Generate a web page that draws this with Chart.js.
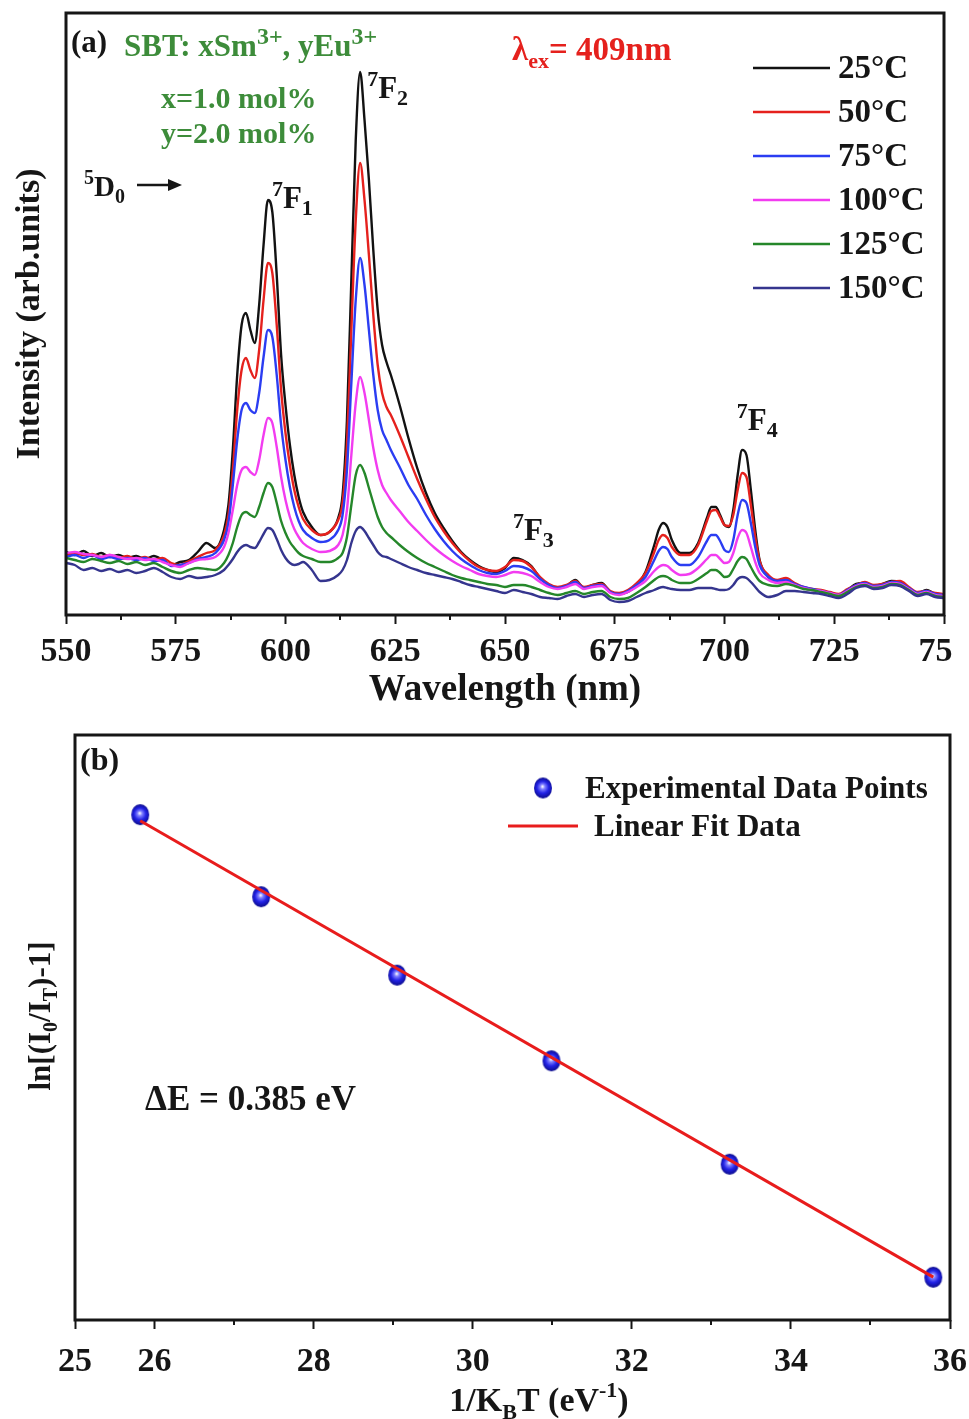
<!DOCTYPE html>
<html>
<head>
<meta charset="utf-8">
<script src="https://cdn.jsdelivr.net/npm/chart.js@4.4.1/dist/chart.umd.min.js"></script>
<style>
  html, body { margin: 0; padding: 0; background: #fff; }
  body { width: 969px; height: 1419px; position: relative; overflow: hidden; }
  #specWrap { position: absolute; left: 0; top: 0; width: 952px; height: 720px; }
  #fitWrap { position: absolute; left: 0; top: 720px; width: 969px; height: 699px; }
</style>
</head>
<body>
<div id="specWrap"><canvas id="spec" width="952" height="720"></canvas></div>
<div id="fitWrap"><canvas id="fit" width="969" height="699"></canvas></div>
<script>
// ---- (a) emission spectra, wavelength in nm, intensity in arbitrary units ----
const wavelength = [
  550,552,554,556,558,560,562,564,566,568,570,572,574,576,578,580,582,584,586,
  587,588,589,590,591,592,593,594,595,596,597,598,599,600,601,602,603,604,
  606,608,610,612,
  613,614,615,616,617,618,619,620,621,622,623,624,
  626,628,630,632,634,636,638,640,642,644,646,648,650,652,654,656,658,660,662,664,666,668,670,672,674,676,678,680,682,684,
  685,686,687,688,
  690,692,694,696,
  697,698,699,700,701,702,703,704,705,706,707,708,
  710,712,714,716,718,720,722,724,726,728,730,732,734,736,738,740,742,744,746,748,750
];
const i25 = [
  63,60,64,59,62,58,60,57,59,56,59,55,50,53,55,63,72,67,85,
  110,165,240,290,302,285,272,310,370,415,403,340,260,210,170,140,118,103,
  88,80,83,97,
  120,195,335,475,543,495,435,365,305,270,253,240,
  210,177,147,122,102,87,74,63,55,49,45,43,47,57,55,49,37,30,27,29,35,27,30,32,23,21,23,30,43,70,
  85,92,88,75,
  62,62,72,97,
  108,108,100,90,88,105,140,165,160,125,85,55,
  38,33,34,30,27,25,24,22,20,25,31,32,29,31,34,33,27,22,25,21,20
];
const i50 = [
  60,62,60,61,58,60,57,59,56,58,55,57,52,50,54,58,62,65,80,
  100,145,205,245,257,245,237,265,315,352,342,290,225,182,150,125,108,96,
  85,80,83,95,
  112,170,285,395,452,415,360,300,250,222,208,200,
  180,158,136,116,98,84,72,62,54,48,45,44,48,55,54,48,38,31,28,30,34,28,30,31,24,22,25,32,42,63,
  75,80,77,68,
  60,60,70,94,
  104,105,98,90,89,100,125,142,138,110,78,54,
  40,35,37,32,28,26,25,23,21,26,30,33,30,31,33,34,28,23,24,22,21
];
const i75 = [
  58,60,57,60,56,58,56,57,55,57,54,55,49,50,52,56,58,62,75,
  92,130,175,205,212,205,202,222,258,285,278,240,190,155,128,108,94,85,
  77,73,75,85,
  100,145,232,315,357,330,285,240,205,185,175,165,
  148,130,116,100,86,74,64,56,50,45,42,41,44,49,48,44,36,30,27,29,33,27,29,30,23,21,24,30,38,55,
  64,68,66,58,
  50,50,58,74,
  80,80,74,65,63,75,100,115,112,92,68,50,
  38,34,35,31,28,26,24,22,20,25,30,32,29,30,33,32,27,22,24,21,20
];
const i100 = [
  62,63,61,60,58,60,58,56,57,55,56,53,50,48,52,55,56,58,68,
  82,105,130,145,148,143,140,155,180,197,192,168,138,115,98,86,78,72,
  66,63,64,70,
  80,105,160,212,238,222,195,167,145,130,122,115,
  104,93,84,75,67,60,54,49,45,41,39,38,40,43,42,39,33,28,26,28,31,26,28,29,22,20,23,28,34,44,
  48,50,49,45,
  40,41,47,56,
  60,60,56,52,53,62,77,85,82,68,53,42,
  35,32,33,30,27,25,24,22,20,24,29,31,28,29,32,31,26,21,23,20,19
];
const i125 = [
  57,55,53,56,54,52,54,51,53,50,52,48,44,42,45,47,46,45,52,
  60,72,88,100,103,100,98,108,122,132,128,112,94,82,73,67,62,59,
  56,53,53,57,
  62,78,110,140,150,142,127,112,98,88,82,78,
  70,63,57,52,48,44,40,37,35,33,31,30,28,30,30,28,25,22,20,22,24,21,23,24,18,16,17,22,28,35,
  38,39,38,35,
  32,32,36,42,
  45,45,42,38,39,46,54,58,56,48,40,34,
  30,29,31,29,26,25,23,21,19,23,28,30,27,28,31,30,25,20,22,19,18
];
const i150 = [
  52,50,45,47,44,46,43,45,42,44,47,43,38,36,39,37,38,40,45,
  50,56,63,68,70,68,67,73,81,87,85,76,65,57,52,50,51,53,
  45,34,35,40,
  45,55,72,84,88,84,77,70,63,59,58,56,
  52,48,45,42,40,38,36,33,30,28,26,24,22,25,23,21,18,17,16,19,21,18,20,21,15,13,14,18,22,25,
  27,28,27,26,
  25,25,27,27,
  27,26,25,25,26,30,36,38,37,33,28,23,
  18,20,24,24,23,22,21,19,17,21,27,29,26,27,30,29,24,19,21,18,17
];
const temperatures = ['25°C', '50°C', '75°C', '100°C', '125°C', '150°C'];
const spectrumTicks = [550, 575, 600, 625, 650, 675, 700, 725, 750];

// ---- (b) thermal quenching fit ----
const invKT = [25.82, 27.34, 29.05, 30.99, 33.23, 35.79];
const lnRatio = [2.05, 1.36, 0.70, -0.02, -0.89, -1.84];
const fitSlope = -0.385;      // -ΔE (eV)
const fitIntercept = 11.94;
const fitTicks = [25, 26, 28, 30, 32, 34, 36];
const fitMinorTicks = [27, 29, 31, 33, 35];

// ---- styling ----
const FONT = '"Liberation Serif", "Times New Roman", serif';
const INK = '#161616';
const lineColors = ['#121212', '#e5211d', '#2b3df2', '#f23cf0', '#25872a', '#35358e'];

function drawRich(ctx, x, y, parts, size, color, align, ratio) {
  const r = ratio || 0.62;
  ctx.save();
  ctx.fillStyle = color;
  ctx.textBaseline = 'alphabetic';
  ctx.textAlign = 'left';
  const fontFor = s => `bold ${s}px ${FONT}`;
  const items = parts.map(([t, kind]) => {
    const s = kind ? Math.round(size * r) : size;
    ctx.font = fontFor(s);
    return { t, kind, s, w: ctx.measureText(t).width };
  });
  const total = items.reduce((a, b) => a + b.w, 0);
  let cx = align === 'center' ? x - total / 2 : x;
  for (const it of items) {
    ctx.font = fontFor(it.s);
    const dy = it.kind === 'sup' ? -size * 0.4 : it.kind === 'sub' ? size * 0.24 : 0;
    ctx.fillText(it.t, cx, y + dy);
    cx += it.w;
  }
  ctx.restore();
}

function makeSphere(rx, ry) {
  const c = document.createElement('canvas');
  c.width = Math.ceil(rx * 2 + 2);
  c.height = Math.ceil(ry * 2 + 2);
  const g = c.getContext('2d');
  const cx = c.width / 2, cy = c.height / 2;
  const grad = g.createRadialGradient(cx - 0.5, cy - 1.5, 0.4, cx, cy, ry);
  grad.addColorStop(0, '#f2f2ff');
  grad.addColorStop(0.2, '#8080ff');
  grad.addColorStop(0.55, '#2222e6');
  grad.addColorStop(1, '#0b0b88');
  g.fillStyle = grad;
  g.beginPath();
  g.ellipse(cx, cy, rx, ry, 0, 0, Math.PI * 2);
  g.fill();
  return c;
}
const sphere = makeSphere(9, 10.5);

function minorTicks(ctx, scale, values, bottom) {
  ctx.save();
  ctx.strokeStyle = INK;
  ctx.lineWidth = 2;
  ctx.beginPath();
  for (const v of values) {
    const px = Math.round(scale.getPixelForValue(v));
    ctx.moveTo(px, bottom);
    ctx.lineTo(px, bottom + 5);
  }
  ctx.stroke();
  ctx.restore();
}

function frame(ctx, a) {
  ctx.save();
  ctx.strokeStyle = INK;
  ctx.lineWidth = 3;
  ctx.strokeRect(a.left, a.top, a.right - a.left, a.bottom - a.top);
  ctx.restore();
}

// ---- chart (a) ----
const spectrumNotes = {
  id: 'spectrumNotes',
  afterDraw(chart) {
    const { ctx, chartArea: a, scales: { x, y } } = chart;
    frame(ctx, a);
    const mids = [];
    for (let i = 0; i < spectrumTicks.length - 1; i++) mids.push((spectrumTicks[i] + spectrumTicks[i + 1]) / 2);
    minorTicks(ctx, x, mids, a.bottom);

    drawRich(ctx, 71, 52, [['(a)', '']], 31, INK);
    drawRich(ctx, 124, 56, [['SBT: xSm', ''], ['3+', 'sup'], [', yEu', ''], ['3+', 'sup']], 31, '#3d8c3a', 'left', 0.76);
    drawRich(ctx, 161, 108, [['x=1.0 mol%', '']], 30, '#3d8c3a');
    drawRich(ctx, 161, 143, [['y=2.0 mol%', '']], 30, '#3d8c3a');
    drawRich(ctx, 512, 60, [['λ', ''], ['ex', 'sub'], ['= 409nm', '']], 33, '#e5211d', 'left', 0.66);

    // 5D0 → transition label
    drawRich(ctx, 84, 196, [['5', 'sup'], ['D', ''], ['0', 'sub']], 29, INK, 'left', 0.68);
    ctx.save();
    ctx.strokeStyle = INK; ctx.fillStyle = INK; ctx.lineWidth = 2.5;
    ctx.beginPath(); ctx.moveTo(137, 185); ctx.lineTo(170, 185); ctx.stroke();
    ctx.beginPath(); ctx.moveTo(182, 185); ctx.lineTo(168, 179); ctx.lineTo(168, 191); ctx.closePath(); ctx.fill();
    ctx.restore();

    // 7FJ peak labels, anchored in data space
    [['1', 596.9, 407], ['2', 618.6, 517], ['3', 651.8, 75], ['4', 702.8, 185]].forEach(([j, wl, inten]) => {
      drawRich(ctx, x.getPixelForValue(wl), y.getPixelForValue(inten), [['7', 'sup'], ['F', ''], [j, 'sub']], 31, INK, 'left', 0.7);
    });

    // legend
    ctx.save();
    chart.data.datasets.forEach((ds, i) => {
      const ly = 68 + i * 44;
      ctx.strokeStyle = ds.borderColor;
      ctx.lineWidth = 2.6;
      ctx.beginPath(); ctx.moveTo(753, ly); ctx.lineTo(830, ly); ctx.stroke();
      ctx.fillStyle = INK;
      ctx.font = `bold 33px ${FONT}`;
      ctx.textBaseline = 'middle';
      ctx.fillText(ds.label, 838, ly + 1);
    });
    ctx.restore();
  }
};

const spectra = [i25, i50, i75, i100, i125, i150];
new Chart(document.getElementById('spec'), {
  type: 'line',
  data: {
    datasets: spectra.map((arr, k) => ({
      label: temperatures[k],
      data: wavelength.map((w, j) => ({ x: w, y: arr[j] })),
      borderColor: lineColors[k],
      borderWidth: 2.4,
      pointRadius: 0,
      fill: false,
      cubicInterpolationMode: 'monotone',
      order: spectra.length - 1 - k
    }))
  },
  options: {
    responsive: false,
    animation: false,
    layout: { padding: { left: 0, top: 13, right: 8, bottom: 0 } },
    plugins: { legend: { display: false }, tooltip: { enabled: false } },
    scales: {
      x: {
        type: 'linear', min: 550, max: 750,
        afterBuildTicks: s => { s.ticks = spectrumTicks.map(v => ({ value: v })); },
        afterFit: s => { s.height = 105; s.paddingLeft = 0; s.paddingRight = 0; },
        ticks: { font: { family: FONT, size: 34, weight: 'bold' }, color: INK, padding: 8, maxRotation: 0, autoSkip: false },
        grid: { drawOnChartArea: false, drawTicks: true, tickLength: 9, tickWidth: 2, tickColor: INK },
        border: { display: false },
        title: { display: true, text: 'Wavelength (nm)', color: INK, font: { family: FONT, size: 37, weight: 'bold' }, padding: { top: 0, bottom: 7 } }
      },
      y: {
        type: 'linear', min: 0, max: 602,
        afterFit: s => { s.width = 66; },
        ticks: { display: false },
        grid: { display: false },
        border: { display: false },
        title: { display: true, text: 'Intensity (arb.units)', color: INK, font: { family: FONT, size: 34, weight: 'bold' }, padding: { top: 10, bottom: 0 } }
      }
    }
  },
  plugins: [spectrumNotes]
});

// ---- chart (b) ----
const fitNotes = {
  id: 'fitNotes',
  afterDraw(chart) {
    const { ctx, chartArea: a, scales: { x } } = chart;
    frame(ctx, a);
    minorTicks(ctx, x, fitMinorTicks, a.bottom);

    drawRich(ctx, 80, 50, [['(b)', '']], 32, INK);

    // legend
    ctx.drawImage(sphere, 543 - sphere.width / 2, 68 - sphere.height / 2);
    ctx.save();
    ctx.strokeStyle = '#e81c1c'; ctx.lineWidth = 3;
    ctx.beginPath(); ctx.moveTo(508, 106); ctx.lineTo(578, 106); ctx.stroke();
    ctx.restore();
    drawRich(ctx, 585, 78, [['Experimental Data Points', '']], 31, INK);
    drawRich(ctx, 594, 116, [['Linear Fit Data', '']], 31, INK);

    drawRich(ctx, 145, 390, [['ΔE = ' + (-fitSlope).toFixed(3) + ' eV', '']], 35, INK);

    // axis titles
    drawRich(ctx, 539, 691, [['1/K', ''], ['B', 'sub'], ['T (eV', ''], ['-1', 'sup'], [')', '']], 34, INK, 'center', 0.66);
    ctx.save();
    ctx.translate(50, 296);
    ctx.rotate(-Math.PI / 2);
    drawRich(ctx, 0, 0, [['ln[(I', ''], ['0', 'sub'], ['/I', ''], ['T', 'sub'], [')-1]', '']], 31, INK, 'center', 0.66);
    ctx.restore();
  }
};

new Chart(document.getElementById('fit'), {
  type: 'scatter',
  data: {
    datasets: [
      {
        label: 'Linear Fit Data',
        data: [invKT[0], invKT[invKT.length - 1]].map(v => ({ x: v, y: fitIntercept + fitSlope * v })),
        showLine: true,
        borderColor: '#e81c1c',
        borderWidth: 3,
        pointRadius: 0,
        order: 0
      },
      {
        label: 'Experimental Data Points',
        data: invKT.map((v, i) => ({ x: v, y: lnRatio[i] })),
        pointStyle: sphere,
        pointRadius: 10,
        order: 1
      }
    ]
  },
  options: {
    responsive: false,
    animation: false,
    layout: { padding: { left: 0, top: 15, right: 19, bottom: 0 } },
    plugins: { legend: { display: false }, tooltip: { enabled: false } },
    scales: {
      x: {
        type: 'linear', min: 25, max: 36,
        afterBuildTicks: s => { s.ticks = fitTicks.map(v => ({ value: v })); },
        afterFit: s => { s.height = 99; s.paddingLeft = 0; s.paddingRight = 0; },
        ticks: { font: { family: FONT, size: 34, weight: 'bold' }, color: INK, padding: 13, maxRotation: 0, autoSkip: false },
        grid: { drawOnChartArea: false, drawTicks: true, tickLength: 9, tickWidth: 2, tickColor: INK },
        border: { display: false }
      },
      y: {
        type: 'linear', min: -2.2, max: 2.72,
        afterFit: s => { s.width = 75; },
        ticks: { display: false },
        grid: { display: false },
        border: { display: false }
      }
    }
  },
  plugins: [fitNotes]
});
</script>
</body>
</html>
